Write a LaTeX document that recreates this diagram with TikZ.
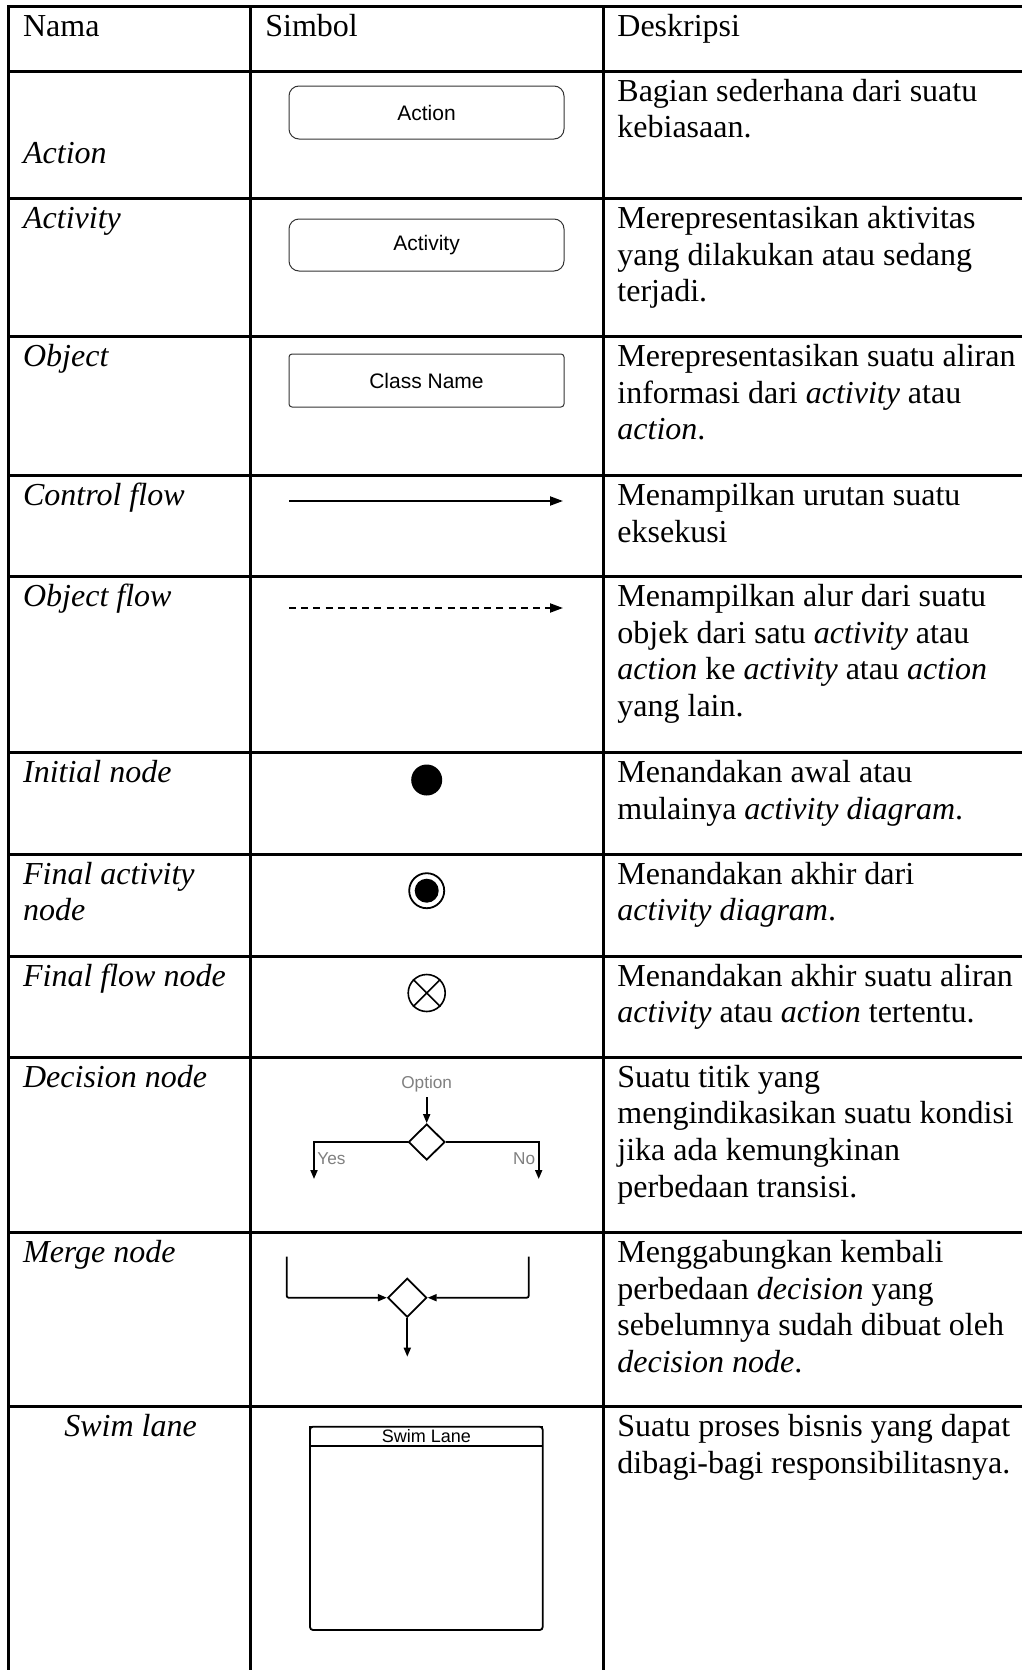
\documentclass[tikz,border=0pt]{standalone}
\usepackage{fontspec}
\setmainfont{Liberation Serif}
\newfontfamily\arialf{Liberation Sans}
\usetikzlibrary{arrows.meta,shapes.geometric}
\newcommand\tlines[5]{\foreach \myln [count=\k from 0] in {#5} {\node[#4] (#1-\k) at ({#2},{#3+\k*36.7}) {\myln};}}
\begin{document}
\begin{tikzpicture}[x=0.5pt,y=-0.5pt,
  grid/.style={line width=1.5pt},
  txt/.style={anchor=base west, inner sep=0pt, font=\fontsize{16}{18.35}\selectfont},
  itxt/.style={anchor=base west, inner sep=0pt, font=\fontsize{16}{18.35}\selectfont\itshape},
  symbox/.style={draw=black!80, line width=0.5pt, minimum width=137.5pt, minimum height=26.5pt, inner sep=0pt, font=\arialf\fontsize{10.5}{12}\selectfont},
  glabel/.style={inner sep=0pt, text=black!50, font=\arialf\fontsize{8.6}{10}\selectfont},
  flow/.style={line width=1pt, -{Triangle[length=6.5pt,width=4.5pt]}},
  sflow/.style={line width=0.9pt, -{Triangle[length=4.5pt,width=3.5pt]}}]
\useasboundingbox (0,0) rectangle (1022,1670);
\clip (0,0) rectangle (1022,1670);
\fill[white] (0,0) rectangle (1022,1670);
% table grid
\foreach \yy in {6,71,198.5,336.5,475.5,576.5,752.5,854,956,1057,1232.5,1406.5}
  \draw[grid] (8,\yy) -- (1040,\yy);
\foreach \xx in {8,250,603}
  \draw[grid] (\xx,5.25) -- (\xx,1690);
% header
\node[txt] (hnama) at (22.7,36) {Nama};
\node[txt] (hsimbol) at (265,36) {Simbol};
\node[txt] (hdesk) at (617,36) {Deskripsi};
% names
\node[itxt] (n1) at (22.7,163) {Action};
\node[itxt] (n2) at (22.7,228.5) {Activity};
\node[itxt] (n3) at (22.7,366.5) {Object};
\node[itxt] (n4) at (22.7,505.5) {Control flow};
\node[itxt] (n5) at (22.7,606.5) {Object flow};
\node[itxt] (n6) at (22.7,782.5) {Initial node};
\tlines{n7}{22.7}{884}{itxt}{{Final activity},{node}}
\node[itxt] (n8) at (22.7,986) {Final flow node};
\node[itxt] (n9) at (22.7,1087) {Decision node};
\node[itxt] (n10) at (22.7,1262.5) {Merge node};
\node[itxt] (n11) at (64,1436.5) {Swim lane};
% descriptions
\tlines{d1}{617}{101}{txt}{{Bagian sederhana dari suatu},{kebiasaan.}}
\tlines{d2}{617}{228.5}{txt}{{Merepresentasikan aktivitas},{yang dilakukan atau sedang},{terjadi.}}
\tlines{d3}{617}{366.5}{txt}{{Merepresentasikan suatu aliran},{informasi dari \textit{activity} atau},{\textit{action}.}}
\tlines{d4}{617}{505.5}{txt}{{Menampilkan urutan suatu},{eksekusi}}
\tlines{d5}{617}{606.5}{txt}{{Menampilkan alur dari suatu},{objek dari satu \textit{activity} atau},{\textit{action} ke \textit{activity} atau \textit{action}},{yang lain.}}
\tlines{d6}{617}{782.5}{txt}{{Menandakan awal atau},{mulainya \textit{activity diagram}.}}
\tlines{d7}{617}{884}{txt}{{Menandakan akhir dari},{\textit{activity diagram}.}}
\tlines{d8}{617}{986}{txt}{{Menandakan akhir suatu aliran},{\textit{activity} atau \textit{action} tertentu.}}
\tlines{d9}{617}{1087}{txt}{{Suatu titik yang},{mengindikasikan suatu kondisi},{jika ada kemungkinan},{perbedaan transisi.}}
\tlines{d10}{617}{1262.5}{txt}{{Menggabungkan kembali},{perbedaan \textit{decision} yang},{sebelumnya sudah dibuat oleh},{\textit{decision node}.}}
\tlines{d11}{617}{1436.5}{txt}{{Suatu proses bisnis yang dapat},{dibagi-bagi responsibilitasnya.}}
% symbols
\node[symbox, rounded corners=5pt] (sact) at (426.5,112.5) {Action};
\node[symbox, rounded corners=5pt, minimum height=26pt] (sactv) at (426.5,245) {Activity};
\node[symbox, rounded corners=1.5pt] (sobj) at (426.5,380.5) {Class Name};
% control flow
\coordinate (cf1) at (289,501);
\coordinate (cf2) at (563,501);
\draw[flow] (cf1) -- (cf2);
% object flow
\coordinate (of1) at (289,608);
\coordinate (of2) at (563,608);
\draw[flow, dash pattern=on 3.5pt off 2.6pt] (of1) -- (of2);
% initial
\node[circle, fill=black, minimum size=15.5pt, inner sep=0pt] (init) at (426.7,780) {};
% final activity
\node[circle, draw=black, line width=0.9pt, minimum size=17.5pt, inner sep=0pt] (fin) at (426.7,890.7) {};
\node[circle, fill=black, minimum size=12pt, inner sep=0pt] (fininner) at (fin.center) {};
% final flow
\node[circle, draw=black, line width=0.8pt, minimum size=18.5pt, inner sep=0pt] (ffl) at (426.7,993) {};
\draw[line width=0.8pt] (ffl.north west) -- (ffl.south east);
\draw[line width=0.8pt] (ffl.north east) -- (ffl.south west);
% decision
\node[diamond, draw=black, line width=0.9pt, minimum width=18.3pt, minimum height=18pt, inner sep=0pt] (dec) at (426.7,1142) {};
\node[glabel] (opt) at (426.7,1084) {Option};
\coordinate (optb) at (426.7,1097);
\draw[sflow] (optb) -- (dec.north);
\coordinate (yesend) at (314,1179);
\coordinate (noend) at (538.7,1179);
\draw[sflow] (dec.west) -| (yesend);
\draw[sflow] (dec.east) -| (noend);
\node[glabel, anchor=west] (yes) at (317,1159) {Yes};
\node[glabel, anchor=east] (no) at (535.5,1159) {No};
% merge
\node[diamond, draw=black, line width=0.9pt, minimum width=19.5pt, minimum height=19.5pt, inner sep=0pt] (mrg) at (407.3,1297.7) {};
\coordinate (ml) at (286.7,1256.7);
\coordinate (mr) at (528.7,1256.7);
\coordinate (mb) at (407.3,1356.7);
\draw[sflow, rounded corners=1pt] (ml) |- (mrg.west);
\draw[sflow, rounded corners=1pt] (mr) |- (mrg.east);
\draw[sflow] (mrg.south) -- (mb);
% swim lane
\node[draw=black, line width=0.9pt, rounded corners=1.5pt, minimum width=116.35pt, minimum height=101.65pt, inner sep=0pt] (swim) at (426.35,1528.35) {};
\node[draw=black, line width=0.7pt, anchor=north, minimum width=116.35pt, minimum height=9.65pt, inner sep=0pt, font=\arialf\fontsize{9}{10}\selectfont] (swimhead) at (swim.north) {Swim Lane};
\end{tikzpicture}
\end{document}
